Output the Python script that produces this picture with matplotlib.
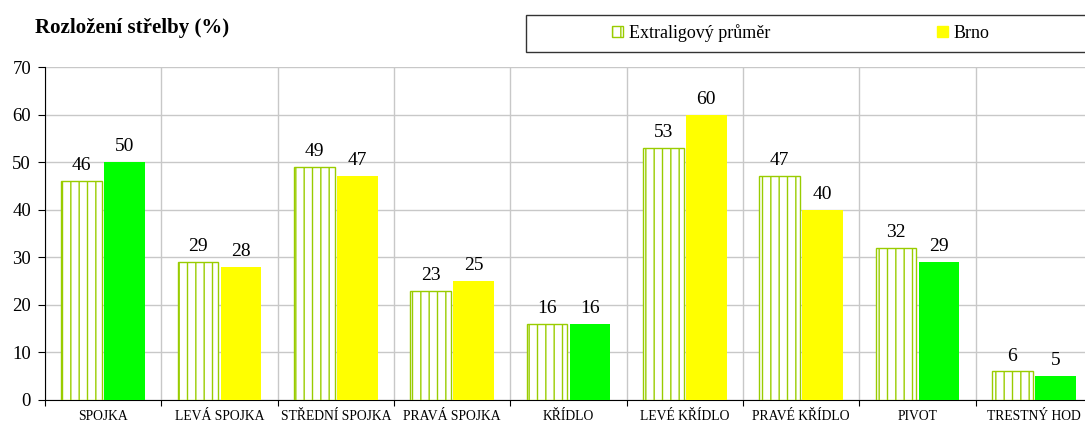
import numpy as np
import matplotlib
matplotlib.use("Agg")
import matplotlib.pyplot as plt
from matplotlib.patches import Rectangle, Patch

plt.rcParams['font.family'] = ['Liberation Serif', 'DejaVu Serif']
plt.rcParams['hatch.linewidth'] = 1.0

kategorie = ['SPOJKA', 'LEVÁ SPOJKA', 'STŘEDNÍ SPOJKA', 'PRAVÁ SPOJKA', 'KŘÍDLO',
             'LEVÉ KŘÍDLO', 'PRAVÉ KŘÍDLO', 'PIVOT', 'TRESTNÝ HOD']
prumer = [46, 29, 49, 23, 16, 53, 47, 32, 6]
brno = [50, 28, 47, 25, 16, 60, 40, 29, 5]
barvy_brno = ['#00FF00', '#FFFF00', '#FFFF00', '#FFFF00', '#00FF00',
              '#FFFF00', '#FFFF00', '#00FF00', '#00FF00']

zelena = '#99CC00'

fig = plt.figure(figsize=(10.85, 4.24), dpi=100)
ax = fig.add_axes([45/1085, 1 - 400/424, 1047/1085, 333/424])

x = np.arange(len(kategorie))
w = 0.35
b1 = ax.bar(x - 0.185, prumer, w, facecolor='white', edgecolor=zelena,
            hatch='||', linewidth=1.0, zorder=3)
b2 = ax.bar(x + 0.185, brno, w, color=barvy_brno, linewidth=0, zorder=3)

for rects, vals in ((b1, prumer), (b2, brno)):
    for r, v in zip(rects, vals):
        ax.annotate(str(v), (r.get_x() + r.get_width()/2, v),
                    xytext=(0, 5), textcoords='offset points',
                    ha='center', va='bottom', fontsize=14)

ax.set_xlim(-0.5, len(kategorie) - 0.5)
ax.set_ylim(0, 70)
ax.set_yticks(range(0, 71, 10))
ax.set_yticklabels([str(v) for v in range(0, 71, 10)], fontsize=13.5)

# hranice kategorii jako hlavni ticky, nazvy jako vedlejsi
ax.set_xticks(np.arange(-0.5, len(kategorie), 1))
ax.set_xticklabels([])
ax.set_xticks(x, minor=True)
ax.set_xticklabels(kategorie, minor=True, fontsize=9.8)
ax.tick_params(axis='x', which='minor', length=0, pad=7)
ax.tick_params(axis='x', which='major', length=4, direction='out', color='black')
ax.tick_params(axis='y', length=5, direction='out', color='black', pad=5)

ax.grid(True, which='major', color='#c8c8c8', linewidth=1.0, zorder=0)
ax.set_axisbelow(True)
for s in ['top', 'right']:
    ax.spines[s].set_visible(False)
ax.spines['left'].set_color('black')
ax.spines['bottom'].set_color('black')

fig.text(35/1085, 1 - 28/424, 'Rozložení střelby (%)', fontsize=15,
         fontweight='bold', va='center', ha='left')

# ramecek legendy
fig.patches.append(Rectangle((526/1085, 1 - 52/424), 580/1085, 37/424,
                             transform=fig.transFigure, facecolor='white',
                             edgecolor='#333333', linewidth=1.0))
handles = [Patch(facecolor='white', edgecolor=zelena, hatch='||', label='Extraligový průměr'),
           Patch(facecolor='#FFFF00', edgecolor='#FFFF00', label='Brno')]
fig.legend(handles=handles, loc='center left', bbox_to_anchor=(603/1085, 1 - 33/424),
           ncol=2, frameon=False, fontsize=13, handlelength=0.6, handleheight=0.6,
           handletextpad=0.35, columnspacing=9.2, borderpad=0)

fig.savefig('out.png', dpi=100)
